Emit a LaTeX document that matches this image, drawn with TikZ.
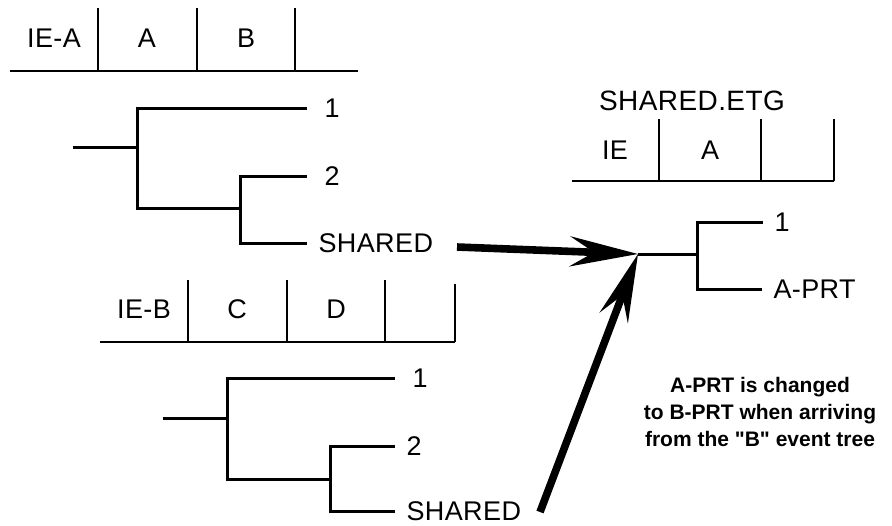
\documentclass[tikz,border=0pt]{standalone}
\usepackage{fontspec}
\setmainfont{Liberation Sans}
\newfontfamily\labelfont{Liberation Sans}[LetterSpace=1.5]
\usetikzlibrary{arrows.meta, positioning}
\definecolor{cink}{HTML}{000000}
\tikzset{
  every picture/.style={line width=1.5pt},
  branch/.style={draw=cink, line width=1.5pt},
  rule/.style={draw=cink, line width=1pt},
  divider/.style={draw=cink, line width=0.6pt},
  cell/.style={font=\labelfont\fontsize{13.5}{15}\selectfont, inner sep=0pt},
  leaf/.style={font=\labelfont\fontsize{13.5}{15}\selectfont, inner sep=0pt},
  feed/.style={-{Stealth[length=34pt, width=15pt, inset=12pt]}, draw=cink, line width=3.8pt},
  note/.style={font=\bfseries\fontsize{10.5}{13.5}\selectfont, align=center},
}

\begin{document}
\begin{tikzpicture}[x=0.5pt, y=-0.5pt]
  \useasboundingbox (0,0) rectangle (892,525);

  % ---- header of IE-A
  \draw[rule] (10,71) -- (358,71);
  \foreach \x in {98,197,295} \draw[divider] (\x,8) -- (\x,71);
  \node[cell] (hA0) at (54,38)  {IE-A};
  \node[cell] (hA1) at (147,38) {A};
  \node[cell] (hA2) at (246,38) {B};

  % ---- tree of IE-A
  \draw[branch] (73,147) -- (137,147);
  \draw[branch] (307,108) coordinate (a1) -- (137,108) -- (137,208) -- (240,208);
  \draw[branch] (307,176) coordinate (a2) -- (240,176) -- (240,243) -- (307,243) coordinate (a3);
  \node[leaf, right=8pt of a1] (a1lab) {1};
  \node[leaf, right=8pt of a2] (a2lab) {2};
  \node[leaf, right=5pt of a3] (shareA) {SHARED};

  % ---- header of IE-B
  \draw[rule] (100,342) -- (455,342);
  \foreach \x in {188,287,385} \draw[divider] (\x,280) -- (\x,342);
  \draw[divider] (455,284) -- (455,342);
  \node[cell] (hB0) at (144,309) {IE-B};
  \node[cell] (hB1) at (237,309) {C};
  \node[cell] (hB2) at (336,309) {D};

  % ---- tree of IE-B
  \draw[branch] (163,418) -- (227,418);
  \draw[branch] (395,378) coordinate (b1) -- (227,378) -- (227,479) -- (330,479);
  \draw[branch] (395,446) coordinate (b2) -- (330,446) -- (330,511) -- (395,511) coordinate (b3);
  \node[leaf, right=8pt of b1] (b1lab) {1};
  \node[leaf, right=5pt of b2] (b2lab) {2};
  \node[leaf, right=5pt of b3] (shareB) {SHARED};

  % ---- header of SHARED.ETG
  \node[cell, font=\labelfont\fontsize{14}{16}\selectfont] (etg) at (692,101) {SHARED.ETG};
  \draw[rule] (572,181) -- (834,181);
  \foreach \x in {659,761,834} \draw[divider] (\x,119) -- (\x,181);
  \node[cell] (hC0) at (615,150) {IE};
  \node[cell] (hC1) at (710,150) {A};

  % ---- shared tree
  \coordinate (join) at (638,254);
  \draw[branch] (join) -- (697,254);
  \draw[branch] (763,222) coordinate (c1) -- (697,222) -- (697,289) -- (762,289) coordinate (c2);
  \node[leaf, right=5pt of c1] (c1lab) {1};
  \node[leaf, right=5pt of c2] (c2lab) {A-PRT};

  % transfers into the shared tree
  \coordinate (tailA) at (457,247);
  \coordinate (tailB) at (540,512);
  \draw[feed] (tailA) -- (join);
  \draw[feed] (tailB) -- (join);

  \node[note] (memo) at (760,412) {A-PRT is changed\\to B-PRT when arriving\\from the \textquotedbl B\textquotedbl{} event tree};
\end{tikzpicture}
\end{document}
